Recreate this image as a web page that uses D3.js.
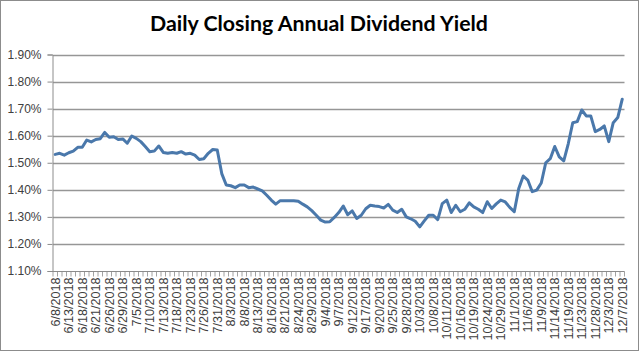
<!DOCTYPE html>
<html>
<head>
<meta charset="utf-8">
<script src="https://cdn.jsdelivr.net/npm/d3@7"></script>
<style>
  html, body { margin: 0; padding: 0; background: #fff; }
  svg { display: block; }
</style>
</head>
<body>
<svg id="chart" width="640" height="352"></svg>
<script>
const title = "Daily Closing Annual Dividend Yield";

const dates = [
  "6/8/2018","6/11/2018","6/12/2018","6/13/2018","6/14/2018","6/15/2018","6/18/2018","6/19/2018","6/20/2018","6/21/2018","6/22/2018","6/25/2018","6/26/2018","6/27/2018","6/28/2018","6/29/2018",
  "7/2/2018","7/3/2018","7/5/2018","7/6/2018","7/9/2018","7/10/2018","7/11/2018","7/12/2018","7/13/2018","7/16/2018","7/17/2018","7/18/2018","7/19/2018","7/20/2018","7/23/2018","7/24/2018","7/25/2018","7/26/2018","7/27/2018","7/30/2018","7/31/2018",
  "8/1/2018","8/2/2018","8/3/2018","8/6/2018","8/7/2018","8/8/2018","8/9/2018","8/10/2018","8/13/2018","8/14/2018","8/15/2018","8/16/2018","8/17/2018","8/20/2018","8/21/2018","8/22/2018","8/23/2018","8/24/2018","8/27/2018","8/28/2018","8/29/2018","8/30/2018","8/31/2018",
  "9/4/2018","9/5/2018","9/6/2018","9/7/2018","9/10/2018","9/11/2018","9/12/2018","9/13/2018","9/14/2018","9/17/2018","9/18/2018","9/19/2018","9/20/2018","9/21/2018","9/24/2018","9/25/2018","9/26/2018","9/27/2018","9/28/2018",
  "10/1/2018","10/2/2018","10/3/2018","10/4/2018","10/5/2018","10/8/2018","10/9/2018","10/10/2018","10/11/2018","10/12/2018","10/15/2018","10/16/2018","10/17/2018","10/18/2018","10/19/2018","10/22/2018","10/23/2018","10/24/2018","10/25/2018","10/26/2018","10/29/2018","10/30/2018","10/31/2018",
  "11/1/2018","11/2/2018","11/5/2018","11/6/2018","11/7/2018","11/8/2018","11/9/2018","11/12/2018","11/13/2018","11/14/2018","11/15/2018","11/16/2018","11/19/2018","11/20/2018","11/21/2018","11/23/2018","11/26/2018","11/27/2018","11/28/2018","11/29/2018","11/30/2018",
  "12/3/2018","12/4/2018","12/6/2018","12/7/2018"
];

// Daily closing annual dividend yield, in percent
const yieldPct = [
  1.531,1.535,1.528,1.537,1.543,1.557,1.557,1.584,1.577,1.586,1.589,1.612,1.594,1.596,1.586,1.588,
  1.572,1.599,1.590,1.578,1.560,1.541,1.543,1.562,1.538,1.535,1.538,1.535,1.541,1.532,1.535,1.528,1.512,1.515,1.535,1.549,1.547,
  1.460,1.418,1.415,1.408,1.418,1.418,1.408,1.410,1.403,1.396,1.380,1.362,1.347,1.360,1.360,1.360,1.360,1.358,1.347,1.337,1.323,1.306,1.288,
  1.281,1.282,1.298,1.316,1.340,1.308,1.322,1.294,1.306,1.330,1.343,1.340,1.338,1.333,1.346,1.325,1.316,1.328,1.300,
  1.293,1.284,1.263,1.285,1.306,1.306,1.290,1.349,1.362,1.316,1.343,1.319,1.328,1.352,1.337,1.328,1.316,1.356,1.331,1.348,1.362,1.355,1.335,
  1.319,1.405,1.451,1.436,1.393,1.399,1.425,1.500,1.515,1.560,1.522,1.507,1.570,1.648,1.652,1.695,1.673,1.673,1.615,1.623,1.636,
  1.578,1.648,1.667,1.735
];

const yTicks = [1.10, 1.20, 1.30, 1.40, 1.50, 1.60, 1.70, 1.80, 1.90];
const labelEvery = 3;

const W = 640, H = 352;
const margin = { left: 53, right: 15.5, top: 54.5, bottom: 81 };
const svg = d3.select("#chart");
const font = "'Liberation Sans', Arial, sans-serif";

// chart border
svg.append("rect").attr("x", 0.5).attr("y", 0.5).attr("width", W - 2).attr("height", H - 2)
  .attr("fill", "#fff").attr("stroke", "#8c8c8c").attr("stroke-width", 1);

const x = d3.scaleBand().domain(dates).range([margin.left, W - margin.right]).padding(0);
const y = d3.scaleLinear().domain([1.10, 1.90]).range([H - margin.bottom, margin.top]);
const cx = d => x(d) + x.bandwidth() / 2;

// gridlines
svg.append("g").selectAll("line").data(yTicks.slice(1)).join("line")
  .attr("x1", margin.left).attr("x2", W - margin.right)
  .attr("y1", d => Math.round(y(d)) + 0.5).attr("y2", d => Math.round(y(d)) + 0.5)
  .attr("stroke", "#969696").attr("stroke-width", 1.3);

// y axis
const yAxis = svg.append("g").attr("transform", `translate(${margin.left - 0.5},0)`)
  .call(d3.axisLeft(y).tickValues(yTicks).tickFormat(d => d.toFixed(2) + "%").tickSize(5).tickPadding(6))
  .call(g => g.select(".domain").attr("stroke", "#8c8c8c"));
yAxis.selectAll(".tick line").attr("stroke", "#8c8c8c");
yAxis.selectAll("text").attr("font-family", font).attr("font-size", 12).attr("fill", "#404040");

// x axis baseline and category ticks
const baseY = Math.round(y(1.10)) + 0.5;
svg.append("line").attr("x1", margin.left).attr("x2", W - margin.right)
  .attr("y1", baseY).attr("y2", baseY).attr("stroke", "#8c8c8c");
const boundaries = dates.map(d => x(d)).concat([x(dates[dates.length - 1]) + x.bandwidth()]);
svg.append("g").selectAll("line").data(boundaries).join("line")
  .attr("x1", d => d).attr("x2", d => d)
  .attr("y1", baseY).attr("y2", baseY + 5)
  .attr("stroke", "#8c8c8c").attr("stroke-width", 0.8);

// x labels
const xAxis = svg.append("g").attr("transform", `translate(0,${baseY})`)
  .call(d3.axisBottom(x).tickValues(dates.filter((d, i) => i % labelEvery === 0)).tickSize(0))
  .call(g => g.select(".domain").remove());
xAxis.selectAll("text")
  .attr("font-family", font).attr("font-size", 12.6).attr("fill", "#404040")
  .attr("transform", "rotate(-90)")
  .attr("x", -6).attr("y", 0).attr("dy", "0.35em")
  .style("text-anchor", "end");

// line
svg.append("path").datum(yieldPct)
  .attr("fill", "none").attr("stroke", "#4a78ab").attr("stroke-width", 3)
  .attr("stroke-linejoin", "round").attr("stroke-linecap", "round")
  .attr("d", d3.line().x((d, i) => cx(dates[i])).y(d => y(d)));

// title
const t = svg.append("text").attr("x", 319).attr("y", 31)
  .attr("text-anchor", "middle").attr("font-family", "Lato, 'Liberation Sans', sans-serif")
  .attr("font-weight", "bold").attr("font-size", 20).attr("fill", "#000").text(title);
const tw = t.node().getComputedTextLength();
t.attr("font-size", 20 * 338 / tw);
</script>
</body>
</html>
